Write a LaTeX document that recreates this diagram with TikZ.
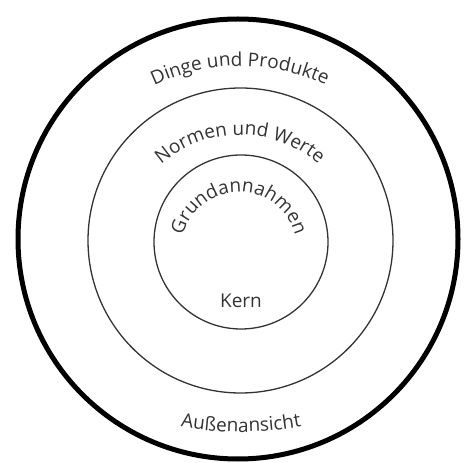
\documentclass[tikz,border=0pt]{standalone}
\usepackage{fontspec}
\setmainfont{Open Sans}
\usetikzlibrary{decorations.text}
\begin{document}
\fontsize{19}{22}\selectfont
\begin{tikzpicture}[x=1pt,y=1pt,
  ring/.style={draw=black!80, line width=1.3pt},
  outerring/.style={draw=black, line width=5pt},
  label/.style={text=black!80},
  arclabel/.style={decorate, decoration={text along path, text align=center,
      text color=black!80, text={#1}}}
]
\useasboundingbox (0,0) rectangle (463,463);

% the three layers
\draw[outerring] (238,224) circle (220);
\draw[ring] (240.5,222.5) circle (152.5);
\draw[ring] (241,221) circle (87);

% labels bent along the rings
\path[arclabel={Dinge und Produkte}] (240,196) ++(145:201) arc[start angle=145, end angle=35, radius=201];
\path[arclabel={Normen und Werte}] (240,208) ++(170:120) arc[start angle=170, end angle=10, radius=120];
\path[arclabel={Grundannahmen}] (239,213) ++(200:58) arc[start angle=200, end angle=-20, radius=58];
\path[arclabel={Außenansicht}] (241,375) ++(250:344) arc[start angle=250, end angle=290, radius=344];

\node[label] (kern) at (241,162) {Kern};
\end{tikzpicture}
\end{document}
